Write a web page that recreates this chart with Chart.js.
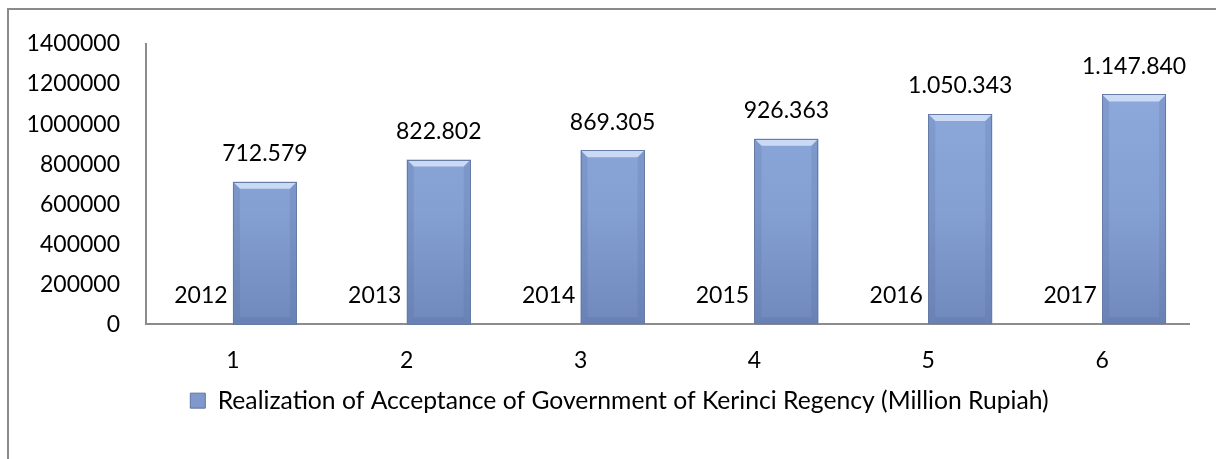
<!DOCTYPE html>
<html>
<head>
<meta charset="utf-8">
<title>Realization of Acceptance - Kerinci Regency</title>
<script src="https://cdn.jsdelivr.net/npm/chart.js@4"></script>
<style>
  html, body { margin: 0; padding: 0; background: #fff; }
  body { width: 1216px; height: 459px; overflow: hidden; position: relative; }
  #frame { position: absolute; left: 7px; top: 8px; width: 1300px; height: 600px; border: 2px solid #8a8a8a; }
  #wrap { position: absolute; left: 0; top: 0; width: 1216px; height: 459px; }
</style>
</head>
<body>
<div id="frame"></div>
<div id="wrap"><canvas id="acceptanceChart" width="1216" height="459"></canvas></div>
<script>
// Data
const categories = ["1", "2", "3", "4", "5", "6"];
const years = [2012, 2013, 2014, 2015, 2016, 2017];
const realization = [712579, 822802, 869305, 926363, 1050343, 1147840];
const legendLabel = "Realization of Acceptance of Government of Kerinci Regency (Million Rupiah)";

const FONT = "Lato, 'Open Sans', sans-serif";

// 712579 -> "712.579"
function dotted(v) {
    return String(v).replace(/\B(?=(\d{3})+(?!\d))/g, ".");
}

// bar fill, lighter at top
function barFill(context) {
    const chart = context.chart;
    const area = chart.chartArea;
    if (!area) return "#8aa4d6";
    const g = chart.ctx.createLinearGradient(0, area.top, 0, area.bottom);
    g.addColorStop(0, "#90acde");
    g.addColorStop(0.6, "#849fd2");
    g.addColorStop(1, "#7089bd");
    return g;
}

// legend sits a little right of the canvas centre in the original
const nudgeLegend = {
    id: "nudgeLegend",
    afterLayout(chart) {
        if (chart.legend) {
            chart.legend.left += 50;
        }
    }
};

// bevel look + data labels
const bevelAndLabels = {
    id: "bevelAndLabels",
    afterDatasetsDraw(chart) {
        const ctx = chart.ctx;
        ctx.save();
        const bars = chart.getDatasetMeta(1).data;
        bars.forEach((bar) => {
            const p = bar.getProps(["x", "y", "base", "width"], true);
            const l = p.x - p.width / 2, r = p.x + p.width / 2;
            const t = p.y, b = p.base, e = 7;
            // top highlight
            ctx.fillStyle = "rgba(214, 228, 250, 0.85)";
            ctx.beginPath();
            ctx.moveTo(l, t); ctx.lineTo(r, t); ctx.lineTo(r - e, t + e); ctx.lineTo(l + e, t + e);
            ctx.closePath(); ctx.fill();
            // side shading
            ctx.fillStyle = "rgba(80, 100, 150, 0.18)";
            ctx.beginPath();
            ctx.moveTo(l, t); ctx.lineTo(l + e, t + e); ctx.lineTo(l + e, b - e); ctx.lineTo(l, b);
            ctx.closePath(); ctx.fill();
            ctx.beginPath();
            ctx.moveTo(r, t); ctx.lineTo(r - e, t + e); ctx.lineTo(r - e, b - e); ctx.lineTo(r, b);
            ctx.closePath(); ctx.fill();
            ctx.fillStyle = "rgba(80, 100, 150, 0.22)";
            ctx.beginPath();
            ctx.moveTo(l, b); ctx.lineTo(l + e, b - e); ctx.lineTo(r - e, b - e); ctx.lineTo(r, b);
            ctx.closePath(); ctx.fill();
            ctx.strokeStyle = "#667ba6";
            ctx.lineWidth = 1;
            ctx.strokeRect(Math.round(l) + 0.5, Math.round(t) + 0.5, Math.round(r - l) - 1, Math.round(b - t) - 1);
        });

        ctx.fillStyle = "#000";
        ctx.font = "23px " + FONT;
        ctx.textAlign = "center";
        ctx.textBaseline = "middle";
        chart.data.datasets.forEach((ds, i) => {
            chart.getDatasetMeta(i).data.forEach((bar, j) => {
                const txt = i === 0 ? String(ds.data[j]) : dotted(ds.data[j]);
                ctx.fillText(txt, bar.x, bar.y - 28);
            });
        });
        ctx.restore();
    }
};

const ctx = document.getElementById("acceptanceChart").getContext("2d");
new Chart(ctx, {
    type: "bar",
    data: {
        labels: categories,
        datasets: [
            {
                label: "Year",
                data: years,
                backgroundColor: "#8aa4d6",
            },
            {
                label: legendLabel,
                data: realization,
                backgroundColor: barFill,
            },
        ],
    },
    options: {
        responsive: false,
        animation: false,
        devicePixelRatio: 1,
        layout: { padding: { left: 0, right: 27, top: 44, bottom: 36 } },
        datasets: {
            bar: { categoryPercentage: 0.736, barPercentage: 1.0 },
        },
        scales: {
            x: {
                grid: { display: false, drawTicks: false },
                border: { display: true, color: "#8c8c8c", width: 2 },
                ticks: { color: "#000", font: { family: FONT, size: 23 }, padding: 22 },
                afterFit: (scale) => { scale.height = 54; },
            },
            y: {
                min: 0,
                max: 1400000,
                grid: { display: false, drawTicks: false },
                border: { display: true, color: "#8c8c8c", width: 2 },
                ticks: {
                    stepSize: 200000,
                    color: "#000",
                    font: { family: FONT, size: 23 },
                    padding: 26,
                    callback: (v) => String(v),
                },
                afterFit: (scale) => { scale.width = 146; },
            },
        },
        plugins: {
            legend: {
                position: "bottom",
                labels: {
                    color: "#000",
                    font: { family: FONT, size: 24.7 },
                    boxWidth: 15,
                    boxHeight: 15,
                    padding: 10,
                    generateLabels: () => [{
                        text: legendLabel,
                        fillStyle: "#7f99cc",
                        strokeStyle: "#5f74a0",
                        lineWidth: 1,
                        datasetIndex: 1,
                    }],
                },
            },
            tooltip: { enabled: false },
        },
    },
    plugins: [nudgeLegend, bevelAndLabels],
});
</script>
</body>
</html>
